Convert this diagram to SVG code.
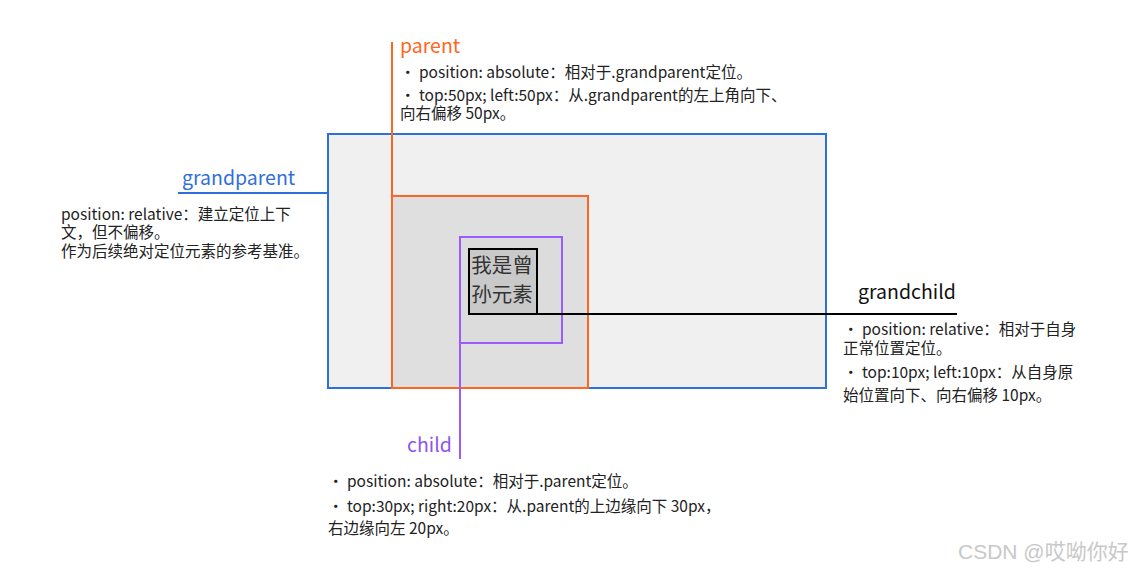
<svg xmlns="http://www.w3.org/2000/svg" width="1132" height="573" viewBox="0 0 1132 573">
<style>
.t{font-family:"Noto Sans CJK SC","Noto Sans",sans-serif;font-size:15.5px;fill:#222}
.lbl{font-family:"Noto Sans CJK SC","Noto Sans",sans-serif;font-size:19.5px}
</style>
<rect width="1132" height="573" fill="#ffffff"/>
<g id="grandparent">
<rect x="328" y="134" width="498" height="254" fill="#f0f0f0" stroke="#2f6fdc" stroke-width="2"/>
</g>
<g id="parent">
<rect x="392" y="196" width="196" height="192" fill="#dfdfdf" stroke="#ff6622" stroke-width="2"/>
</g>
<g id="child">
<rect x="460" y="237" width="102" height="106" fill="#dcdcdc" stroke="#9b5cff" stroke-width="2"/>
</g>
<g id="grandchild">
<rect x="469" y="249" width="68" height="65" fill="#c9c9c9" stroke="#000" stroke-width="2"/>
<text class="lbl" x="502" y="273" text-anchor="middle" style="font-size:20.5px" fill="#333">我是曾</text>
<text class="lbl" x="502" y="302" text-anchor="middle" style="font-size:20.5px" fill="#333">孙元素</text>
</g>
<g id="connectors" fill="none" stroke-width="2">
<line x1="392" y1="42" x2="392" y2="196" stroke="#ff6622"/>
<line x1="178" y1="193" x2="328" y2="193" stroke="#2f6fdc"/>
<line x1="460" y1="343" x2="460" y2="459" stroke="#9b5cff"/>
<line x1="537" y1="314" x2="957" y2="314" stroke="#000"/>
</g>
<g id="labels">
<text class="lbl" x="400" y="53" fill="#ff6622">parent</text>
<text class="t" x="400" y="78">· position: absolute：相对于.grandparent定位。</text>
<text class="t" x="400" y="101">· top:50px; left:50px：从.grandparent的左上角向下、</text>
<text class="t" x="400" y="119">向右偏移 50px。</text>
<text class="lbl" x="182" y="185" fill="#2f6fdc">grandparent</text>
<text class="t" x="61" y="220">position: relative：建立定位上下</text>
<text class="t" x="61" y="238">文，但不偏移。</text>
<text class="t" x="61" y="257">作为后续绝对定位元素的参考基准。</text>
<text class="lbl" x="858" y="299" fill="#111">grandchild</text>
<text class="t" x="843" y="335">· position: relative：相对于自身</text>
<text class="t" x="843" y="354">正常位置定位。</text>
<text class="t" x="843" y="378">· top:10px; left:10px：从自身原</text>
<text class="t" x="843" y="401">始位置向下、向右偏移 10px。</text>
<text class="lbl" x="407" y="452" fill="#8b55f0">child</text>
<text class="t" x="328" y="487">· position: absolute：相对于.parent定位。</text>
<text class="t" x="328" y="512">· top:30px; right:20px：从.parent的上边缘向下 30px，</text>
<text class="t" x="328" y="534">右边缘向左 20px。</text>
<text x="958" y="559" font-family="Liberation Sans,Noto Sans CJK SC,sans-serif" font-size="21" fill="#c8c8c8">CSDN @哎呦你好</text>
</g>
</svg>
